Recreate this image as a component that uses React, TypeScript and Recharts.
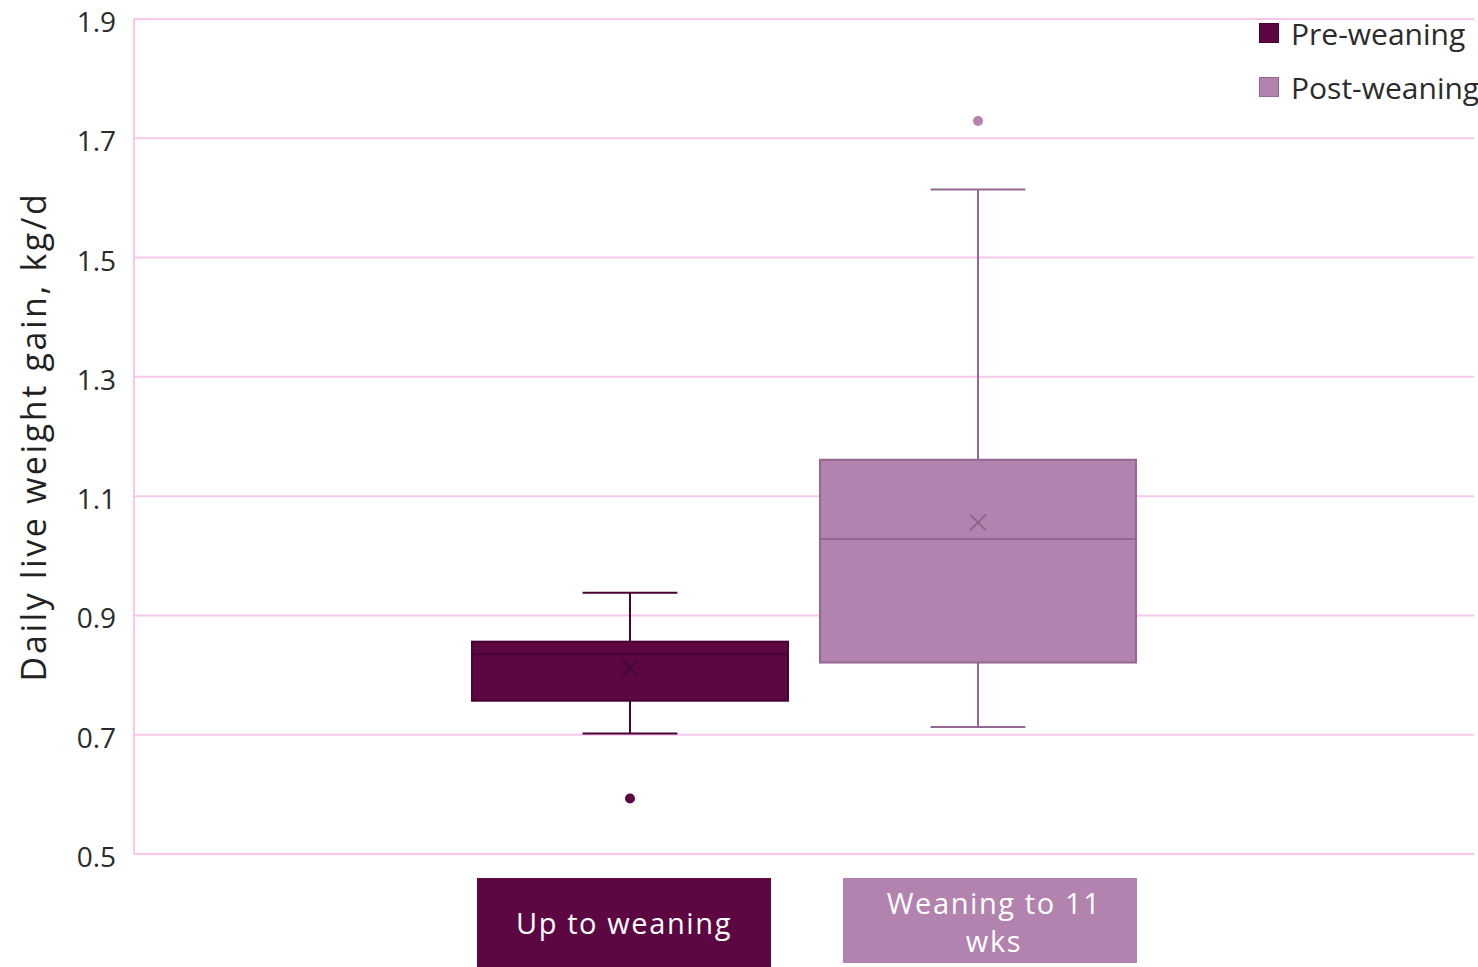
import { Bar, CartesianGrid, ComposedChart, Legend, XAxis, YAxis } from "recharts";

const SERIES = ["Pre-weaning", "Post-weaning"];
const FILLS = ["#5c0642", "#b283ae"];
const STROKES = ["#470332", "#946891"];
const MEAN_COLORS = ["#420a33", "#8c6489"];

const minValues = [0.702, 0.713];
const q1Values = [0.757, 0.821];
const medianValues = [0.835, 1.028];
const q3Values = [0.856, 1.161];
const maxValues = [0.938, 1.614];
const meanValues = [0.812, 1.056];
const outlierValues = [[0.593], [1.729]];

const groupLabels = [["Up to weaning"], ["Weaning to 11", "wks"]];
const yTicks = [0.5, 0.7, 0.9, 1.1, 1.3, 1.5, 1.7, 1.9];

const data = [
  {
    name: "group",
    pre: [minValues[0], maxValues[0]],
    post: [minValues[1], maxValues[1]],
  },
];

function makeBoxShape(i: number) {
  return (props: any) => {
    const { x, y, width, height } = props;
    const min = minValues[i];
    const max = maxValues[i];
    const perUnit = height / (max - min);
    const yOf = (v: number) => y + (max - v) * perUnit;
    const cx = x + width / 2;
    const cap = width * 0.3;
    const yq1 = yOf(q1Values[i]);
    const yq3 = yOf(q3Values[i]);
    const ym = yOf(meanValues[i]);
    const stroke = STROKES[i];
    return (
      <g>
        <line x1={cx} x2={cx} y1={yOf(max)} y2={yq3} stroke={stroke} strokeWidth={2} />
        <line x1={cx} x2={cx} y1={yq1} y2={yOf(min)} stroke={stroke} strokeWidth={2} />
        <line x1={cx - cap / 2} x2={cx + cap / 2} y1={yOf(max)} y2={yOf(max)} stroke={stroke} strokeWidth={2} />
        <line x1={cx - cap / 2} x2={cx + cap / 2} y1={yOf(min)} y2={yOf(min)} stroke={stroke} strokeWidth={2} />
        <rect x={x} y={yq3} width={width} height={yq1 - yq3} fill={FILLS[i]} stroke={stroke} strokeWidth={2} />
        <line
          x1={x}
          x2={x + width}
          y1={yOf(medianValues[i])}
          y2={yOf(medianValues[i])}
          stroke={stroke}
          strokeWidth={2}
        />
        <path
          d={`M${cx - 8},${ym - 8}L${cx + 8},${ym + 8}M${cx - 8},${ym + 8}L${cx + 8},${ym - 8}`}
          stroke={MEAN_COLORS[i]}
          strokeWidth={2}
        />
        {outlierValues[i].map((v) => (
          <circle key={v} cx={cx} cy={yOf(v)} r={5} fill={FILLS[i]} />
        ))}
      </g>
    );
  };
}

function GroupTick(props: any) {
  const { x, y } = props;
  const boxes = [
    { left: x - 327, w: 294, h: 95 },
    { left: x + 39, w: 294, h: 85 },
  ];
  return (
    <g>
      {boxes.map((b, i) => {
        const lines = groupLabels[i];
        const top = y + 24;
        const first = lines.length === 1 ? top + 56 : top + 36;
        return (
          <g key={i}>
            <rect x={b.left} y={top} width={b.w} height={b.h} fill={FILLS[i]} />
            {lines.map((t, j) => (
              <text
                key={t}
                x={b.left + b.w / 2 + (i === 0 ? 0 : 4)}
                y={first + j * 38}
                textAnchor="middle"
                fill="#ffffff"
                fontSize={29}
                letterSpacing={1.6}
                fontFamily="'Open Sans', sans-serif"
              >
                {t}
              </text>
            ))}
          </g>
        );
      })}
    </g>
  );
}

export default function App() {
  return (
    <div
      style={{
        position: "absolute",
        left: 0,
        top: 0,
        width: 1478,
        height: 967,
        overflow: "hidden",
        background: "#ffffff",
      }}
    >
      <ComposedChart
        width={1478}
        height={967}
        data={data}
        margin={{ top: 19, right: 4, bottom: 0, left: 0 }}
        barSize={316}
        barGap={32}
      >
        <CartesianGrid vertical={false} stroke="#f8c8ec" strokeWidth={2} />
        <XAxis
          dataKey="name"
          height={113}
          axisLine={false}
          tickLine={false}
          tickSize={0}
          tickMargin={0}
          interval={0}
          tick={<GroupTick />}
        />
        <YAxis
          type="number"
          domain={[0.5, 1.9]}
          ticks={yTicks}
          width={134}
          tickLine={false}
          tickSize={0}
          tickMargin={18}
          axisLine={{ stroke: "#f8c8ec", strokeWidth: 2 }}
          tickFormatter={(v: number) => v.toFixed(1)}
          tick={{ fill: "#2b2b2b", fontSize: 28, dy: 3, fontFamily: "'Open Sans', sans-serif" }}
          label={{
            content: ({ viewBox }: any) => (
              <text
                transform={`translate(${viewBox.x + 46}, ${viewBox.y + viewBox.height / 2}) rotate(-90)`}
                textAnchor="middle"
                fill="#222222"
                fontSize={34}
                letterSpacing={2.6}
                fontFamily="'Open Sans', sans-serif"
              >
                Daily live weight gain, kg/d
              </text>
            ),
          }}
        />
        <Legend
          layout="vertical"
          align="center"
          verticalAlign="middle"
          wrapperStyle={{ position: "absolute", top: 6, left: 1259, width: 300 }}
          content={({ payload }: any) => (
            <div>
              {[...(payload || [])]
                .sort((a: any, b: any) => SERIES.indexOf(a.value) - SERIES.indexOf(b.value))
                .map((entry: any) => {
                  const i = SERIES.indexOf(entry.value);
                  return (
                    <div
                      key={entry.value}
                      style={{ display: "flex", alignItems: "center", height: 54, whiteSpace: "nowrap" }}
                    >
                      <span
                        style={{
                          width: 18,
                          height: 18,
                          background: FILLS[i],
                          border: `1px solid ${STROKES[i]}`,
                          marginRight: 12,
                          flex: "none",
                        }}
                      />
                      <span
                        style={{
                          fontSize: 30,
                          color: "#2b2b2b",
                          fontFamily: "'Open Sans', sans-serif",
                        }}
                      >
                        {entry.value}
                      </span>
                    </div>
                  );
                })}
            </div>
          )}
        />
        <Bar
          dataKey="pre"
          name={SERIES[0]}
          fill={FILLS[0]}
          shape={makeBoxShape(0)}
          isAnimationActive={false}
        />
        <Bar
          dataKey="post"
          name={SERIES[1]}
          fill={FILLS[1]}
          shape={makeBoxShape(1)}
          isAnimationActive={false}
        />
      </ComposedChart>
    </div>
  );
}
